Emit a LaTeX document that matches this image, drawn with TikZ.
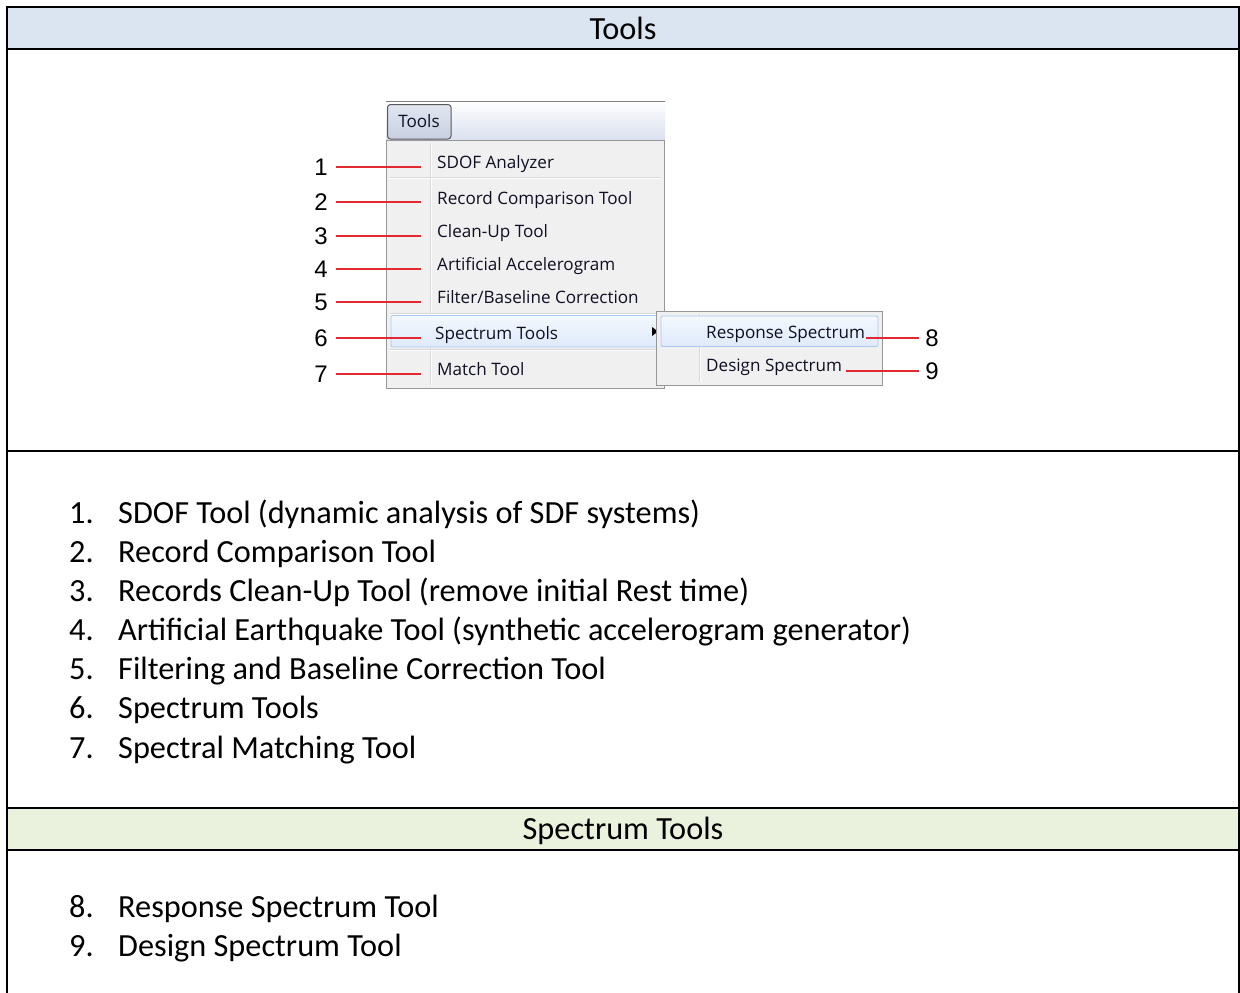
\documentclass[tikz,border=0pt]{standalone}
\usepackage{fontspec}
\setmainfont{Carlito}
\newfontfamily\menufont{Open Sans}
\newfontfamily\numfont{Liberation Sans}
\definecolor{hdrblue}{RGB}{219,229,241}
\definecolor{hdrgreen}{RGB}{234,241,221}
\definecolor{menubg}{RGB}{240,240,240}
\definecolor{menuborder}{RGB}{151,151,151}
\definecolor{sepgray}{RGB}{215,215,215}
\definecolor{barblue}{RGB}{218,224,240}
\definecolor{hlborder}{RGB}{170,200,240}
\definecolor{hltop}{RGB}{244,248,254}
\definecolor{hlbot}{RGB}{222,233,250}
\definecolor{menutext}{RGB}{15,15,35}
\definecolor{redln}{RGB}{228,40,50}
\definecolor{btntop}{RGB}{225,230,240}
\definecolor{btnbot}{RGB}{200,208,225}
\tikzset{
  tbl/.style={line width=2pt, black},
  hdr/.style={inner sep=0pt, anchor=base, font=\fontsize{32.3}{38}\selectfont},
  lnum/.style={inner sep=0pt, anchor=base west, font=\fontsize{32.3}{38}\selectfont},
  ltxt/.style={inner sep=0pt, anchor=base west, font=\fontsize{32.3}{38}\selectfont},
  mitem/.style={inner sep=0pt, anchor=base west, text=menutext, font=\menufont\fontsize{17.1}{20}\selectfont},
  cnum/.style={inner sep=0pt, anchor=center, font=\numfont\fontsize{24}{28}\selectfont},
  redline/.style={redln, line width=1.2pt},
  hlbox/.style={draw=hlborder, rounded corners=2pt, top color=hltop, bottom color=hlbot, line width=0.8pt},
}
\begin{document}
\begin{tikzpicture}[x=1pt,y=-1pt]
\useasboundingbox (0,0) rectangle (1240,993);
% table
\fill[white] (0,0) rectangle (1240,993);
\fill[hdrblue] (7,7) rectangle (1239,49);
\fill[hdrgreen] (7,808) rectangle (1239,850);
\draw[tbl] (7,7) -- (1239,7);
\draw[tbl] (7,49) -- (1239,49);
\draw[tbl] (7,451) -- (1239,451);
\draw[tbl] (7,808) -- (1239,808);
\draw[tbl] (7,850) -- (1239,850);
\draw[tbl] (7,6) -- (7,993);
\draw[tbl] (1239,6) -- (1239,993);
\node[hdr] (h1) at (623,39) {Tools};
\node[hdr] (h2) at (623,839) {Spectrum Tools};
% list
\foreach \i/\y/\t in {1/523/{SDOF Tool (dynamic analysis of SDF systems)},
  2/562/{Record Comparison Tool},
  3/601/{Records Clean-Up Tool (remove initial Rest time)},
  4/640/{Artificial Earthquake Tool (synthetic accelerogram generator)},
  5/679/{Filtering and Baseline Correction Tool},
  6/718/{Spectrum Tools},
  7/758/{Spectral Matching Tool},
  8/917/{Response Spectrum Tool},
  9/956/{Design Spectrum Tool}}{
  \node[lnum] (ln\i) at (69,\y) {\i.};
  \node[ltxt] (lt\i) at (118,\y) {\t};
}
% menu bar
\shade[top color=white, bottom color=barblue] (386,101) rectangle (665,140);
\draw[gray, line width=1pt] (386,101) -- (665,101);
\draw[draw=black!65, rounded corners=3pt, top color=btntop, bottom color=btnbot, line width=1pt] (387.5,104.5) rectangle (451,139);
\node[mitem, anchor=center] (tb) at (419,121.5) {Tools};
% main menu
\draw[draw=menuborder, fill=menubg, line width=1pt] (386,140) rectangle (664,388);
\draw[sepgray, line width=1pt] (430,143) -- (430,385);
\draw[white, line width=1pt] (431,143) -- (431,385);
\draw[sepgray, line width=1pt] (390,177) -- (660,177);
\draw[white, line width=1pt] (390,178) -- (660,178);
\draw[sepgray, line width=1pt] (390,313) -- (660,313);
\draw[white, line width=1pt] (390,314) -- (660,314);
\draw[sepgray, line width=1pt] (390,349) -- (660,349);
\draw[white, line width=1pt] (390,350) -- (660,350);
\draw[hlbox] (391,315.5) rectangle (659,347);
\fill[black] (652,327) -- (658,331.5) -- (652,336) -- cycle;
\node[mitem] (m1) at (437,168) {SDOF Analyzer};
\node[mitem] (m2) at (437,204) {Record Comparison Tool};
\node[mitem] (m3) at (437,237) {Clean-Up Tool};
\node[mitem] (m4) at (437,270) {Artificial Accelerogram};
\node[mitem] (m5) at (437,303) {Filter/Baseline Correction};
\node[mitem] (m6) at (435,339) {Spectrum Tools};
\node[mitem] (m7) at (437,375) {Match Tool};
% submenu
\draw[draw=menuborder, fill=menubg, line width=1pt] (656,311) rectangle (882,385);
\draw[sepgray, line width=1pt] (699,314) -- (699,382);
\draw[white, line width=1pt] (700,314) -- (700,382);
\draw[hlbox] (661,316) rectangle (878,346.5);
\node[mitem] (m8) at (706,338) {Response Spectrum};
\node[mitem] (m9) at (706,371) {Design Spectrum};
% callout numbers and red lines
\foreach \i/\y in {1/167,2/202,3/236,4/269,5/302,6/338,7/374}{
  \node[cnum] (c\i) at (321,\y) {\i};
  \coordinate (e\i) at (421,\y);
  \draw[redline] (c\i.east) ++(8,0) -- (e\i);
}
\node[cnum] (c8) at (932,338) {8};
\node[cnum] (c9) at (932,371) {9};
\coordinate (e8) at (866,338);
\coordinate (e9) at (846,371);
\draw[redline] (e8) -- ([xshift=-6pt]c8.west);
\draw[redline] (e9) -- ([xshift=-6pt]c9.west);
\end{tikzpicture}
\end{document}
